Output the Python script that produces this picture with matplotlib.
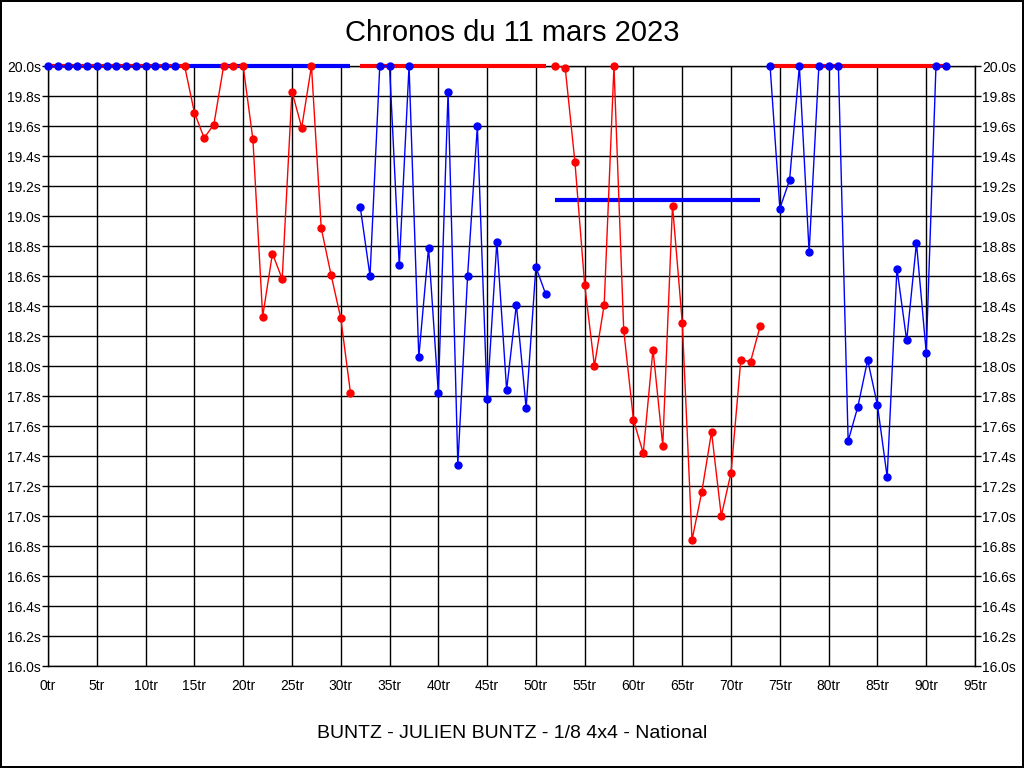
import numpy as np
import matplotlib
matplotlib.use('Agg')
import matplotlib.pyplot as plt

plt.rcParams['font.family'] = ['Liberation Sans', 'DejaVu Sans']

# tours (index) et chronos (s) par manche, valeurs > 20s ramenées à 20.0
laps_1 = list(range(0, 14))
times_1 = [20.0] * 14

laps_2 = list(range(14, 32))
times_2 = [20.0, 19.69, 19.52, 19.61, 20.0, 20.0, 20.0, 19.51, 18.33, 18.75,
           18.58, 19.83, 19.59, 20.0, 18.92, 18.61, 18.32, 17.82]

laps_3 = list(range(32, 52))
times_3 = [19.06, 18.60, 20.0, 20.0, 18.67, 20.0, 18.06, 18.79, 17.82, 19.83,
           17.34, 18.60, 19.60, 17.78, 18.83, 17.84, 18.41, 17.72, 18.66, 18.48]

laps_4 = list(range(52, 74))
times_4 = [20.0, 19.99, 19.36, 18.54, 18.00, 18.41, 20.0, 18.24, 17.64, 17.42,
           18.11, 17.47, 19.07, 18.29, 16.84, 17.16, 17.56, 17.00, 17.29, 18.04,
           18.03, 18.27]

laps_5 = list(range(74, 93))
times_5 = [20.0, 19.05, 19.24, 20.0, 18.76, 20.0, 20.0, 20.0, 17.50, 17.73,
           18.04, 17.74, 17.26, 18.65, 18.17, 18.82, 18.09, 20.0, 20.0]

series = [(laps_1, times_1), (laps_2, times_2), (laps_3, times_3),
          (laps_4, times_4), (laps_5, times_5)]
series_colors = ['blue', 'red', 'blue', 'red', 'blue']

# lignes épaisses de référence (début, fin, valeur)
ref_start = [0, 14, 32, 52, 74]
ref_end = [14, 31, 51, 73, 92]
ref_value = [20.0, 20.0, 20.0, 19.11, 20.0]
ref_colors = ['red', 'blue', 'red', 'blue', 'red']

y_min, y_max = 16.0, 20.0
x_max = 95

fig = plt.figure(figsize=(10.24, 7.68), dpi=100)
fig.patch.set_edgecolor('black')
fig.patch.set_linewidth(1.5)
ax = fig.add_axes([48 / 1024, 1 - 666 / 768, 927 / 1024, 600 / 768])

for x0, x1, v, c in zip(ref_start, ref_end, ref_value, ref_colors):
    ax.plot([x0, x1], [v, v], color=c, lw=3, solid_capstyle='butt',
            zorder=3, clip_on=False)

for (laps, times), c in zip(series, series_colors):
    t = np.clip(times, y_min, y_max)
    ax.plot(laps, t, color=c, lw=1, zorder=4, clip_on=False)
    ax.plot(laps, t, 'o', color=c, ms=5, mec=c, zorder=5, clip_on=False)

ax.set_xlim(0, x_max)
ax.set_ylim(y_min, y_max)

yt = np.round(np.arange(y_min, y_max + 0.01, 0.2), 1)
ax.set_yticks(yt)
ax.set_yticklabels([f'{v:.1f}s' for v in yt])
xt = np.arange(0, x_max + 1, 5)
ax.set_xticks(xt)
ax.set_xticklabels([f'{v}tr' for v in xt])

ax.grid(True, color='black', lw=1)
ax.set_axisbelow(True)
for s in ax.spines.values():
    s.set_color('black')
    s.set_linewidth(1)

ax.tick_params(axis='y', which='both', left=True, right=True,
               labelleft=True, labelright=True, length=4, width=1,
               pad=1, labelsize=10)
ax.tick_params(axis='x', length=0, pad=9, labelsize=10)

fig.text(0.5, 1 - 33 / 768, 'Chronos du 11 mars 2023', ha='center',
         va='center', fontsize=21)
fig.text(0.5, 1 - 733 / 768, 'BUNTZ - JULIEN BUNTZ - 1/8 4x4 - National',
         ha='center', va='center', fontsize=14)

fig.savefig('out.png', dpi=100, edgecolor=fig.get_edgecolor())
